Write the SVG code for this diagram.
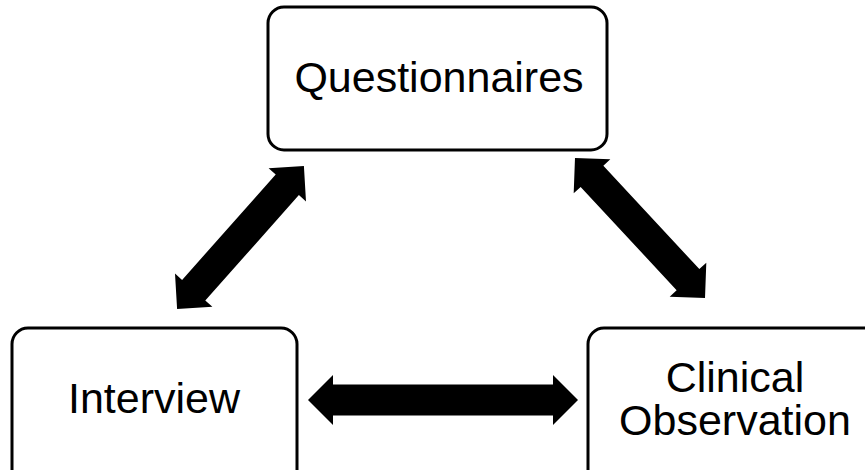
<svg xmlns="http://www.w3.org/2000/svg" width="865" height="470" viewBox="0 0 865 470">
<style>
.box{fill:#fff;stroke:#000;stroke-width:3}
.lbl{font-family:"Liberation Sans",Arial,sans-serif;font-size:43px;fill:#000;text-anchor:middle}
.arr{fill:#000}
</style>
<defs>
<polygon id="dbl" points="-95.5,0 -70.5,-25 -70.5,-15.5 70.5,-15.5 70.5,-25 95.5,0 70.5,25 70.5,15.5 -70.5,15.5 -70.5,25"/>
</defs>
<rect width="865" height="470" fill="#fff"/>
<g id="connectors" class="arr">
<use href="#dbl" transform="translate(240.5,237.5) rotate(-48.4)"/>
<use href="#dbl" transform="translate(640,228) rotate(47.1)"/>
<polygon points="308,400 333,375 333,384.5 553,384.5 553,375 578,400 553,425 553,415.5 333,415.5 333,425"/>
</g>
<g id="questionnaires">
<rect class="box" x="268" y="7" width="339" height="143" rx="16"/>
<text class="lbl" x="439" y="92">Questionnaires</text>
</g>
<g id="interview">
<rect class="box" x="12" y="328" width="285" height="160" rx="16"/>
<text class="lbl" x="154" y="413">Interview</text>
</g>
<g id="clinical">
<rect class="box" x="588" y="328" width="300" height="160" rx="16"/>
<text class="lbl" x="735" y="392">Clinical</text>
<text class="lbl" x="735" y="435">Observation</text>
</g>
</svg>
